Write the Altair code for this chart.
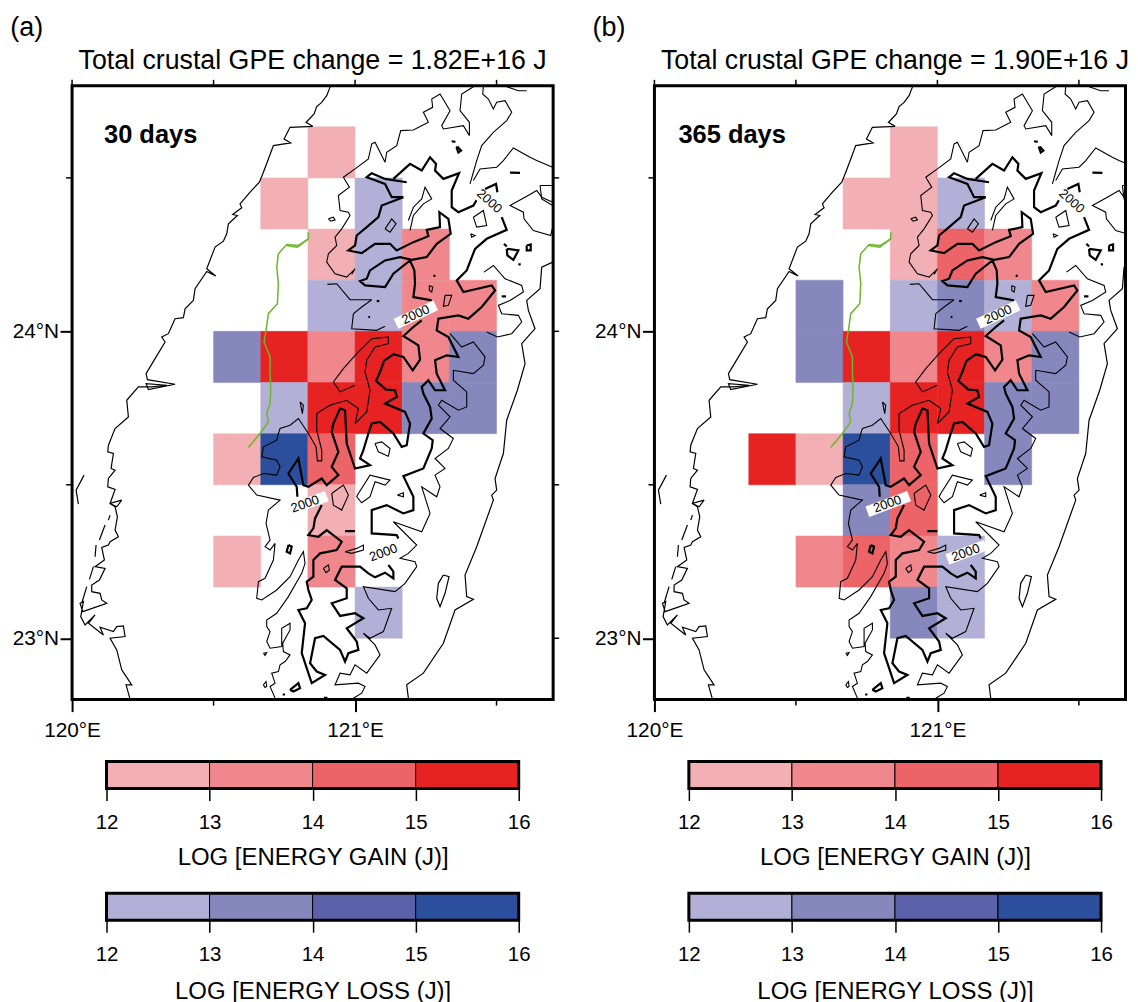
import altair as alt
import pandas as pd

FONT = "Liberation Sans"
LEVELS = ["g1", "g2", "g3", "g4", "l1", "l2", "l3", "l4"]
LEVEL_COLORS = ["#F2B0B5", "#EF878C", "#EC6467", "#E72222", "#B2B0D6", "#8587BD", "#5A61A8", "#2B4E9D"]
STEP = 1 / 6

# (west edge lon, north edge lat, class): log10 energy gain (g) or loss (l) class 1-4 (12-13 ... 15-16)
CELLS_A = [
    (120.8333, 24.6667, "g1"),
    (120.6667, 24.5, "g1"), (121.0, 24.5, "l1"),
    (120.8333, 24.3333, "g1"), (121.0, 24.3333, "l1"), (121.1667, 24.3333, "g2"),
    (120.8333, 24.1667, "l1"), (121.0, 24.1667, "l1"), (121.1667, 24.1667, "g2"), (121.3333, 24.1667, "g2"),
    (120.5, 24.0, "l2"), (120.6667, 24.0, "g4"), (120.8333, 24.0, "g2"), (121.0, 24.0, "g4"), (121.1667, 24.0, "g2"), (121.3333, 24.0, "l2"),
    (120.6667, 23.8333, "l1"), (120.8333, 23.8333, "g4"), (121.0, 23.8333, "g4"), (121.1667, 23.8333, "l2"), (121.3333, 23.8333, "l2"),
    (120.5, 23.6667, "g1"), (120.6667, 23.6667, "l4"), (120.8333, 23.6667, "g3"),
    (120.8333, 23.5, "g1"),
    (120.5, 23.3333, "g1"), (120.8333, 23.3333, "g2"),
    (121.0, 23.1667, "l1"),
]
CELLS_B = [
    (120.8333, 24.6667, "g1"),
    (120.6667, 24.5, "g1"), (120.8333, 24.5, "g1"), (121.0, 24.5, "l1"),
    (120.8333, 24.3333, "g1"), (121.0, 24.3333, "g3"), (121.1667, 24.3333, "g2"),
    (120.5, 24.1667, "l2"), (120.8333, 24.1667, "l1"), (121.0, 24.1667, "l2"), (121.1667, 24.1667, "l1"), (121.3333, 24.1667, "g2"),
    (120.5, 24.0, "l2"), (120.6667, 24.0, "g4"), (120.8333, 24.0, "g2"), (121.0, 24.0, "g4"), (121.1667, 24.0, "g2"), (121.3333, 24.0, "l2"),
    (120.6667, 23.8333, "l1"), (120.8333, 23.8333, "g4"), (121.0, 23.8333, "g4"), (121.1667, 23.8333, "l2"), (121.3333, 23.8333, "l2"),
    (120.3333, 23.6667, "g4"), (120.5, 23.6667, "g1"), (120.6667, 23.6667, "l4"), (120.8333, 23.6667, "g3"), (121.1667, 23.6667, "l2"),
    (120.6667, 23.5, "l2"), (120.8333, 23.5, "g3"),
    (120.5, 23.3333, "g2"), (120.6667, 23.3333, "g3"), (120.8333, 23.3333, "g2"), (121.0, 23.3333, "l1"),
    (120.8333, 23.1667, "l2"), (121.0, 23.1667, "l1"),
]

BAR_EDGES = [12, 13, 14, 15, 16]


def south(points):
    return [(x, y + 960) for x, y in points]


COAST_WEST = [(812,44),(800,75),(785,95),(770,108),(762,130),(745,148),(738,155),(758,167),(690,170),(672,205),(692,217),(640,225),(625,265),(610,305),(598,335),(570,365),(540,400),(545,412),(518,432),(532,435),(505,460),(500,490),(490,512),(465,530),(440,595),(467,617),(440,603),(405,655),(400,690),(375,715),(370,742),(345,745),(325,790),(305,800),(315,815),(285,865),(258,910),(262,928),(345,942),(265,958),(258,940),(320,945),(275,950),(235,950),(200,990)] + south([(205,80),(165,115),(145,165),(143,185),(160,190),(153,235),(165,240),(145,265),(143,290),(165,298),(150,340),(185,330),(170,350),(150,340),(165,350),(172,380),(165,420),(175,440),(150,455),(145,465),(125,472),(133,510),(105,530),(135,535),(118,570),(95,585),(95,605),(120,610),(125,630),(140,640),(68,665),(60,640),(70,635),(62,680),(75,705),(105,675),(85,700),(130,735),(120,712),(160,725),(170,710),(190,708),(195,740),(150,745),(170,780),(185,840),(195,855),(215,885),(198,885),(210,928)])
ISLET_1 = south([(72,255),(48,300),(55,342)])
ISLET_2 = south([(150,375),(145,390)])
ISLET_3 = south([(135,405),(118,450)])
ISLET_4 = south([(108,465),(105,500)])
ISLET_5 = south([(100,530),(88,568)])
ISLET_6 = south([(80,590),(65,640)])
COAST_EAST = [(1478,575),(1445,590),(1440,655),(1400,690),(1405,720),(1425,775),(1385,820),(1395,880),(1372,960)] + south([(1340,90),(1330,190),(1305,265),(1310,300),(1295,315),(1300,330),(1250,470),(1215,555),(1220,620),(1240,628),(1185,660),(1150,760),(1090,850),(1040,885),(1045,925)])
ISLAND_EAST = south([(1150,555),(1167,560),(1155,610),(1140,650),(1130,625),(1135,580),(1150,555)])

THIN_WEST = [(1240,48),(1205,70),(1200,120),(1228,155),(1228,195),(1210,165),(1150,175),(1145,165),(1170,120),(1140,70),(1115,85),(1118,110),(1090,125),(1105,155),(1060,178),(1022,180),(1010,225),(980,245),(975,275),(945,215),(935,220),(925,265),(885,295),(850,320),(868,350),(835,375),(840,420),(865,425),(870,435),(845,475),(825,500),(830,525),(805,550),(800,575),(825,610),(860,620),(885,595),(875,612)]
THIN_LOBE = [(802,642),(830,640),(870,688),(935,688),(905,710),(880,730),(875,775),(950,780),(975,768)]
THIN_FINGER = [(885,945),(840,965),(820,935),(850,895),(890,850),(935,805),(985,800),(985,820),(945,830),(920,870),(915,905),(930,960)] + south([(920,65),(885,100),(895,55),(860,30),(810,45),(770,70),(770,120),(785,180),(785,212),(772,212),(768,170),(745,130),(715,85),(690,105),(660,115),(655,130),(650,150),(610,170),(605,200),(650,210),(660,230),(650,255),(610,250),(580,262),(565,285),(590,315),(660,330),(625,360),(618,400),(630,450),(615,470),(630,480),(645,460),(640,510),(615,565),(595,575),(590,625),(605,630),(650,600),(690,560),(715,510),(730,485),(735,520),(725,550),(685,620),(650,670),(620,690),(620,710),(630,725),(620,755),(630,775),(665,770),(665,715),(690,700),(690,720),(668,760),(670,785),(690,795),(675,815),(660,825),(655,845),(635,850),(645,880),(630,890),(645,925)])
THIN_EAST = [(1170,790),(1205,830),(1240,815),(1275,860),(1270,885),(1240,910),(1180,900),(1180,930),(1220,965)] + south([(1220,50),(1195,60),(1145,30),(1135,45),(1170,80),(1140,115),(1180,145),(1165,175),(1125,205),(1155,235),(1125,255),(1140,290),(1130,320),(1085,290),(1110,370),(1085,425),(1000,395),(1070,465),(1045,490),(1020,505),(1065,515),(1070,530),(1035,580),(1005,605),(910,590),(925,625),(955,660),(995,655),(970,725),(930,745),(910,730),(945,765),(960,795),(920,850),(885,825),(870,855),(840,850),(825,885),(895,880),(915,890),(905,910),(880,925)])
THIN_NE_1 = [(1270,48),(1268,70),(1285,85),(1300,115),(1310,95),(1335,90),(1355,125),(1340,150),(1300,185),(1265,225),(1250,270),(1240,305),(1230,340)]
THIN_NE_2 = [(1400,60),(1375,60),(1340,48)]
THIN_NE_3 = [(1240,330),(1260,295),(1310,290),(1330,270),(1360,232),(1410,260),(1430,270),(1478,290)]
THIN_NE_4 = [(1478,395),(1445,380),(1430,360),(1395,380),(1350,405),(1390,425),(1392,445),(1420,480),(1472,495),(1478,470)]
THIN_NE_5 = [(1272,605),(1300,585),(1335,625),(1385,645),(1390,665),(1350,690),(1315,705),(1325,730),(1375,735),(1385,755),(1355,790),(1312,800),(1280,785)]
LOOP_1 = [(1440,345),(1478,345),(1478,405),(1445,385),(1440,345)]
LOOP_2 = [(1240,440),(1270,420),(1280,465),(1250,470),(1240,440)]
LOOP_3 = [(1232,490),(1245,495),(1235,500),(1232,490)]
LOOP_4 = [(1045,450),(1060,410),(1085,385),(1095,350),(1115,385),(1090,400),(1060,435),(1050,480)]
LOOP_5 = [(805,445),(820,440),(825,448),(812,452),(805,445)]
LOOP_6 = [(975,475),(995,445),(1008,460),(990,485),(975,475)]
LOOP_7 = [(1108,645),(1118,650),(1115,665),(1108,660),(1108,645)]
LOOP_8 = [(1155,675),(1175,675),(1165,705),(1150,708),(1155,675)]
LOOP_9 = south([(945,160),(965,155),(990,175),(985,198),(955,185),(945,160)])
LOOP_10 = south([(895,310),(930,255),(990,270),(975,285),(945,275),(930,320),(905,338),(890,320),(895,310)])
LOOP_11 = south([(1012,315),(1030,308),(1030,320),(1012,315)])
LOOP_12 = south([(815,310),(850,285),(865,315),(845,360),(820,345),(815,310)])
LOOP_13 = south([(855,485),(890,475),(910,465),(910,480),(875,490),(855,485)])
LOOP_14 = south([(790,535),(805,525),(808,540),(798,548),(790,535)])
LOOP_15 = south([(610,885),(618,875),(620,890),(615,893),(610,885)])
LOOP_16 = south([(610,790),(620,788),(615,797),(610,790)])
LOOP_17 = south([(720,35),(730,45),(727,70),(720,35)])

THICK_NORTH = [(1040,335),(975,325),(935,308),(920,320),(975,340),(995,380),(1030,380),(965,405),(955,440),(920,470),(890,495),(885,525),(865,540),(905,548),(945,520),(990,520),(1010,540),(1060,515),(1105,497),(1100,478),(1140,470),(1138,425),(1165,445),(1172,490),(1130,520),(1100,560),(1055,568),(1020,560),(975,570),(930,600),(920,625),(900,632),(915,645),(975,650),(1000,610),(1050,570),(1063,600),(1065,640),(1060,680),(1115,690)]
THICK_CENTRAL = [(1085,750),(1060,770),(1030,797),(1075,825),(1080,868),(1058,900),(1030,860),(1000,852),(972,872),(960,905),(948,932),(978,958),(1005,960)] + south([(1010,20),(975,40),(1035,65),(1050,100),(1040,165),(1025,170),(1000,130),(960,95),(935,100),(925,130),(910,180),(900,205),(930,225),(885,235),(860,160),(855,60),(840,55),(820,100),(815,125),(835,185),(815,230),(835,255),(800,285),(785,265),(745,290),(730,285),(715,205),(685,250),(710,290),(712,320)])
THICK_SOUTH = south([(785,345),(765,385),(760,415),(745,435),(775,440),(800,420),(845,455),(830,480),(780,490),(760,510),(760,560),(740,575),(745,600),(755,630),(740,655),(715,660),(735,700),(730,745),(725,790),(745,850),(755,880),(795,855),(770,845),(750,820),(765,745),(790,738),(840,780),(855,815),(865,790),(895,780),(890,755),(860,715),(910,685),(885,670),(840,678),(815,640),(860,625),(860,595),(825,570),(845,530),(900,530),(925,550),(945,562),(975,548),(1000,565),(1000,545),(985,525)])
THICK_EAST = south([(1015,445),(1010,435),(935,430),(935,360),(980,345),(1030,370),(1060,360),(1060,320),(1030,258),(1090,235),(1115,175),(1118,150),(1090,130),(1115,85),(1110,50),(1090,10)]) + [(1085,950),(1105,930),(1125,960),(1155,960),(1130,910),(1125,870),(1160,855),(1195,860),(1165,800),(1130,780),(1135,745),(1195,735),(1225,745),(1265,710),(1305,660),(1295,645),(1210,665),(1190,630),(1220,600),(1245,535),(1280,505),(1340,478),(1325,440)]
THICK_NE = [(1000,325),(1050,280),(1085,300),(1110,260),(1128,280),(1125,300),(1150,325),(1197,308),(1175,360),(1175,410),(1195,425),(1240,405),(1258,375)]
BLOB_1 = [(1275,355),(1308,340),(1312,365)]
BLOB_2 = [(1340,535),(1375,540),(1360,568),(1342,555),(1340,535)]
BLOB_3 = [(1400,525),(1412,522),(1412,540),(1400,540),(1400,525)]
BLOB_4 = [(1350,306),(1380,307)]
BLOB_5 = [(1325,678),(1338,678)]
BLOB_6 = [(1120,615),(1126,617)]
BLOB_7 = [(950,692),(958,692)]
BLOB_8 = [(925,740),(930,740)]
BLOB_9 = [(1175,212),(1186,214)]
BLOB_10 = [(1192,228),(1203,240),(1195,246),(1190,232),(1192,228)]
BLOB_11 = [(1332,520),(1340,528)]
BLOB_12 = [(1375,582),(1382,582)]
BLOB_13 = south([(685,465),(695,470),(690,490),(680,485),(685,465)])
BLOB_14 = south([(690,900),(715,880),(720,895),(700,905),(690,900)])
BLOB_15 = south([(855,423),(885,423)])
BLOB_16 = south([(668,914),(675,914)])
BLOB_17 = south([(792,924),(802,924)])

GREEN_LINE = [(745,485),(745,505),(715,525),(680,522),(655,550),(650,590),(655,640),(652,700),(625,730),(618,780),(612,815),(630,860),(630,905),(632,960)] + south([(630,40),(620,70),(625,95),(600,130),(565,172)])
GREEN_SPUR = [(745,505),(712,530),(680,525)]

# Contour label: box start, box end, text centre, text angle
LABEL_BOXES = [
    [(1008,760),(1127,705)],
    [(1255,372),(1325,432)],
    south([(675,365),(800,318)]),
    south([(915,508),(1030,465)]),
]
LABEL_TEXT = [(1067,733,335), (1288,392,42), (735,1302,340), (970,1448,340)]

COAST = [COAST_WEST, COAST_EAST, ISLAND_EAST, ISLET_1, ISLET_2, ISLET_3, ISLET_4, ISLET_5, ISLET_6]
THIN = [THIN_WEST, THIN_LOBE, THIN_FINGER, THIN_EAST, THIN_NE_1, THIN_NE_2, THIN_NE_3, THIN_NE_4, THIN_NE_5,
        LOOP_1, LOOP_2, LOOP_3, LOOP_4, LOOP_5, LOOP_6, LOOP_7, LOOP_8, LOOP_9, LOOP_10, LOOP_11, LOOP_12,
        LOOP_13, LOOP_14, LOOP_15, LOOP_16, LOOP_17]
THICK = [THICK_NORTH, THICK_CENTRAL, THICK_SOUTH, THICK_EAST, THICK_NE, BLOB_1, BLOB_2, BLOB_3, BLOB_4, BLOB_5,
         BLOB_6, BLOB_7, BLOB_8, BLOB_9, BLOB_10, BLOB_11, BLOB_12, BLOB_13, BLOB_14, BLOB_15, BLOB_16, BLOB_17]
GREEN = [GREEN_LINE, GREEN_SPUR]


def to_lon(x):
    return 120 + (x - 36) / 849


def to_lat(y):
    return 24 - (y - 783) / 922


def trace_frame(traces):
    rows = []
    for i, tr in enumerate(traces):
        for j, (x, y) in enumerate(tr):
            rows.append({"id": i, "ord": j, "lon": to_lon(x), "lat": to_lat(y)})
    return pd.DataFrame(rows)


H = 615
PX_PER_DEG = 482 / 1.7
yscale = alt.Scale(domain=[22.8, 24.8], nice=False, zero=False)
cls_scale = alt.Scale(domain=LEVELS, range=LEVEL_COLORS)


def panel(cells, letter, days, days_x, title, W, right_ticks):
    xscale = alt.Scale(domain=[120, 120 + W / PX_PER_DEG], nice=False, zero=False)
    XAXIS = alt.Axis(values=[120, 121], tickSize=12, tickWidth=2, tickColor="black", domain=False, grid=False,
                     labelExpr="datum.value + '°E'", labelFontSize=20.8, labelFont=FONT, labelColor="black",
                     labelPadding=8.5, labelFlush=False, labelOverlap=False)
    YAXIS = alt.Axis(values=[23, 24], tickSize=12, tickWidth=2, tickColor="black", domain=False, grid=False,
                     labelExpr="datum.value + '°N'", labelFontSize=20.8, labelFont=FONT, labelColor="black",
                     labelPadding=1.5, labelOverlap=False)
    XE = alt.X("lon:Q", scale=xscale, title=None, axis=XAXIS)
    YE = alt.Y("lat:Q", scale=yscale, title=None, axis=YAXIS)

    def line_layer(traces, width, color="black"):
        return alt.Chart(trace_frame(traces)).mark_line(
            stroke=color, strokeWidth=width, clip=True, strokeJoin="miter", strokeMiterLimit=3
        ).encode(x=XE, y=YE, detail="id:N", order="ord:Q")

    cdf = pd.DataFrame(cells, columns=["lon", "lat", "cls"])
    cdf["lon2"] = cdf.lon + STEP
    cdf["lat2"] = cdf.lat - STEP
    rects = alt.Chart(cdf).mark_rect(strokeWidth=0.5).encode(
        x=XE, x2="lon2:Q", y=YE, y2="lat2:Q",
        color=alt.Color("cls:N", scale=cls_scale, legend=None),
        stroke=alt.Stroke("cls:N", scale=cls_scale, legend=None),
    )
    boxes = alt.Chart(trace_frame(LABEL_BOXES)).mark_line(stroke="white", strokeWidth=11, clip=True).encode(
        x=XE, y=YE, detail="id:N", order="ord:Q")
    ldf = pd.DataFrame([{"lon": to_lon(a), "lat": to_lat(b), "ang": c, "t": "2000"} for a, b, c in LABEL_TEXT])
    labels = alt.Chart(ldf).mark_text(fontSize=13, font=FONT, color="black").encode(
        x=XE, y=YE, text="t:N", angle=alt.Angle("ang:Q", scale=None))
    days_t = alt.Chart(pd.DataFrame({"t": [days]})).mark_text(
        align="left", baseline="middle", fontSize=25.5, fontWeight="bold", font=FONT, color="black").encode(
        x=alt.value(days_x), y=alt.value(49), text="t:N")
    letter_t = alt.Chart(pd.DataFrame({"t": [letter]})).mark_text(
        align="left", baseline="middle", fontSize=27, font=FONT, color="black").encode(
        x=alt.value(-62), y=alt.value(-58), text="t:N")
    title_t = alt.Chart(pd.DataFrame({"t": [title]})).mark_text(
        align="center", baseline="middle", fontSize=26.8, font=FONT, color="black").encode(
        x=alt.value(241), y=alt.value(-25), text="t:N")
    top = alt.Chart(pd.DataFrame({"lon": [120, 120.5, 121, 121.5]})).mark_rule(stroke="black", strokeWidth=1.5).encode(
        x=XE, y=alt.value(-6), y2=alt.value(0))
    bottom = alt.Chart(pd.DataFrame({"lon": [120.5, 121.5]})).mark_rule(stroke="black", strokeWidth=1.5).encode(
        x=XE, y=alt.value(H), y2=alt.value(H + 6))
    left = alt.Chart(pd.DataFrame({"lat": [23.5, 24.5]})).mark_rule(stroke="black", strokeWidth=1.5).encode(
        y=YE, x=alt.value(-6), x2=alt.value(0))
    frame = alt.Chart(pd.DataFrame({"a": [0]})).mark_rect(fillOpacity=0, stroke="black", strokeWidth=3).encode(
        x=alt.value(0), x2=alt.value(W), y=alt.value(0), y2=alt.value(H))
    layers = [rects, line_layer(COAST, 1.2), line_layer(THIN, 1.1), line_layer(THICK, 2.2),
              line_layer(GREEN, 1.5, "#6DB52C"), boxes, labels, days_t, letter_t, title_t, top, bottom, left]
    if right_ticks:
        layers.append(alt.Chart(pd.DataFrame({"lat": [23, 23.5, 24, 24.5]})).mark_rule(
            stroke="black", strokeWidth=1.5).encode(y=YE, x=alt.value(W), x2=alt.value(W + 6)))
    layers.append(frame)
    return alt.layer(*layers).properties(width=W, height=H)


def bar(prefix, title, lead, inset, title_pad):
    df = pd.DataFrame({
        "lo": BAR_EDGES[:-1], "hi": BAR_EDGES[1:], "cls": [f"{prefix}{i}" for i in range(1, 5)]})
    rects = alt.Chart(df).mark_rect(stroke="black", strokeWidth=1).encode(
        x=alt.X("lo:Q", scale=alt.Scale(domain=[12, 16], range=[inset, inset + 413], nice=False, zero=False),
                title=title, axis=alt.Axis(
            values=BAR_EDGES, format="d", tickSize=12, tickWidth=1.5, tickColor="black", domain=False, grid=False,
            labelFontSize=20.5, labelFont=FONT, labelColor="black", labelPadding=12.5, labelFlush=False,
            titleFontSize=24, titleFont=FONT, titleFontWeight="normal", titleColor="black", titlePadding=title_pad)),
        x2="hi:Q",
        y=alt.value(lead), y2=alt.value(lead + 27),
        color=alt.Color("cls:N", scale=cls_scale, legend=None),
    )
    frame = alt.Chart(pd.DataFrame({"a": [0]})).mark_rect(fillOpacity=0, stroke="black", strokeWidth=3).encode(
        x=alt.value(inset), x2=alt.value(inset + 413), y=alt.value(lead), y2=alt.value(lead + 27))
    return alt.layer(rects, frame).properties(width=413 + inset, height=lead + 27)


def column(cells, letter, days, days_x, title, W, right_ticks):
    inset = 482 - W
    return alt.vconcat(panel(cells, letter, days, days_x, title, W, right_ticks),
                       bar("g", "LOG [ENERGY GAIN (J)]", 0, inset, 12.5),
                       bar("l", "LOG [ENERGY LOSS (J)]", 43, inset, 14.5),
                       spacing=62, bounds="flush", center=True)


chart = alt.hconcat(
    column(CELLS_A, "(a)", "30 days", 32, "Total crustal GPE change = 1.82E+16 J", 482, True),
    column(CELLS_B, "(b)", "365 days", 24, "Total crustal GPE change = 1.90E+16 J", 472, False),
    spacing=583.5, bounds="flush",
).properties(padding={"left": 2.2, "top": 5, "right": 0, "bottom": 0}).configure_view(stroke=None)

chart.save("out.html", embed_options={"renderer": "svg", "actions": False})
